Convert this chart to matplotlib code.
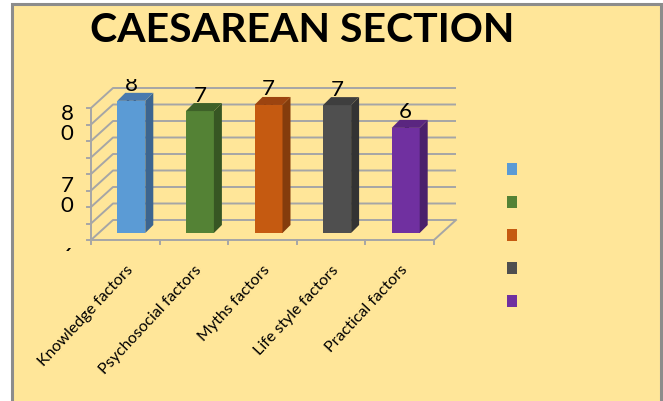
import matplotlib.pyplot as plt
from matplotlib.patches import Polygon, Rectangle

categories = ["Knowledge factors", "Psychosocial factors", "Myths factors",
              "Life style factors", "Practical factors"]
values = [80.1, 73.9, 77.6, 77.5, 63.7]
y_ticks = [0, 10, 20, 30, 40, 50, 60, 70, 80]
y_labels_shown = ["8\n0", "7\n0", "6\n0"]

front = ["#5B9BD5", "#548235", "#C55A11", "#4F4F4F", "#7030A0"]
side = ["#3C6590", "#375623", "#843C0C", "#333333", "#4B206B"]
top = ["#4A7AAE", "#3E6128", "#9C4410", "#3E3E3E", "#5A2680"]

BG = "#FFE699"
GRID = "#A6A6A6"

W, H = 663, 402
fig = plt.figure(figsize=(W / 100, H / 100), dpi=100)
fig.patch.set_facecolor("white")

# chart area with grey border
fig.patches.append(Rectangle((12 / W, -0.01), 649 / W, (H - 5) / H + 0.01,
                             transform=fig.transFigure, facecolor=BG,
                             edgecolor="#8C8C8C", lw=2.2, zorder=-5))

fig.text(302 / W, 1 - 31 / H, "CAESAREAN SECTION", ha="center", va="center",
         fontsize=29.5, fontweight="bold", family="Lato")

ax = fig.add_axes([55 / W, (H - 252) / H, 415 / W, 172 / H], zorder=2)
ax.set_facecolor("none")
for s in ax.spines.values():
    s.set_visible(False)

# pixel -> data scale
px_x = 68.6
px_y = 1.65
ax.set_xlim((55 - 125.3) / px_x, (470 - 125.3) / px_x)
ax.set_ylim(-(252 - 241) / px_y, (241 - 80) / px_y)

DX, DY = 22 / px_x, 20 / px_y
xl, xr = -0.5, len(categories) - 0.5

# walls and gridlines
for v in y_ticks:
    ax.plot([xl, xl + DX, xr + DX], [v, v + DY, v + DY], color=GRID, lw=1.4,
            zorder=1, solid_capstyle="butt")
    ax.plot([xl - 4 / px_x, xl], [v, v], color=GRID, lw=1.4, zorder=1)
ax.plot([xl, xr, xr + DX], [0, 0, DY], color=GRID, lw=1.4, zorder=1)
ax.plot([xl, xl], [0, y_ticks[-1]], color=GRID, lw=1.4, zorder=1)
for b in range(len(categories) + 1):
    ax.plot([b - 0.5, b - 0.5], [0, -4 / px_y], color=GRID, lw=1.4, zorder=1)

# bars with 3D-looking faces
bw = 28 / px_x
off_x, off_y = 6 / px_x, 7 / px_y
dep_x, dep_y = 8 / px_x, 8 / px_y
xs = [i + off_x for i in range(len(categories))]
ax.bar(xs, values, width=bw, bottom=off_y, color=front, zorder=4, linewidth=0)
ASC = 16.5  # px from first-line baseline to text top
for i, (x, v) in enumerate(zip(xs, values)):
    x0, x1 = x - bw / 2, x + bw / 2
    y0, y1 = off_y, off_y + v
    ax.add_patch(Polygon([(x1, y0), (x1 + dep_x, y0 + dep_y),
                          (x1 + dep_x, y1 + dep_y), (x1, y1)],
                         closed=True, facecolor=side[i], lw=0, zorder=4))
    ax.add_patch(Polygon([(x0, y1), (x1, y1), (x1 + dep_x, y1 + dep_y),
                          (x0 + dep_x, y1 + dep_y)],
                         closed=True, facecolor=top[i], lw=0, zorder=4))
    # label wraps to two lines; the second line hides behind the bar
    lab = f"{v:.0f}"
    ax.text(x, y1 + dep_y + (2 + ASC) / px_y, lab[0] + "\n" + lab[1:],
            ha="center", va="top", fontsize=16, family="Lato", zorder=3,
            linespacing=1.1, clip_on=True)

# value axis labels (wrapped and clipped, as in the source)
for lab, yp in zip(y_labels_shown, [120, 193, 264]):
    ax.text((67 - 55) / 415, (252 - yp + ASC) / 172, lab, ha="center",
            va="top", fontsize=16, family="Lato", linespacing=1.0,
            transform=ax.transAxes, clip_on=True)

ax.set_yticks([])
ax.set_xticks(range(len(categories)))
ax.set_xticklabels(categories, rotation=47, ha="right", va="top",
                   rotation_mode="anchor", fontsize=11.5, family="Lato")
ax.tick_params(axis="x", length=0, pad=8)

# legend without series names
handles = [Rectangle((0, 0), 1, 1, facecolor=c, lw=0) for c in front]
fig.legend(handles, [""] * 5, loc="upper left",
           bbox_to_anchor=(497 / W, 1 - 152 / H), frameon=False,
           handlelength=0.55, handleheight=0.6, labelspacing=0.72,
           fontsize=14, handletextpad=0.2, borderpad=0)

fig.savefig("out.png", dpi=100, facecolor=fig.get_facecolor())
